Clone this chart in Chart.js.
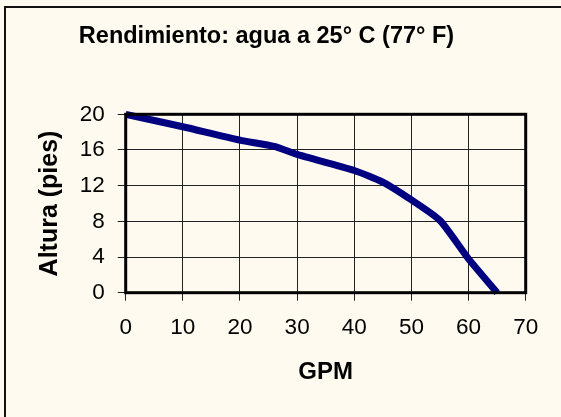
<!DOCTYPE html>
<html>
<head>
<meta charset="utf-8">
<script src="https://cdn.jsdelivr.net/npm/chart.js@4"></script>
<style>
html,body{margin:0;padding:0;background:#FFFAEF;}
#wrap{width:561px;height:417px;}
</style>
</head>
<body>
<div id="wrap"><canvas id="c" width="561" height="417"></canvas></div>
<script>
const chartTitle = "Rendimiento: agua a 25° C (77° F)";
const xTitle = "GPM";
const yTitle = "Altura (pies)";
const gpm = [0, 10, 20, 26, 30, 40, 45, 50, 55, 60, 65];
const altura = [20, 18.6, 17.1, 16.4, 15.5, 13.7, 12.4, 10.4, 8.1, 3.8, 0];
const xTicks = [0, 10, 20, 30, 40, 50, 60, 70];
const yTicks = [0, 4, 8, 12, 16, 20];

const points = gpm.map((x, i) => ({x: x, y: altura[i]}));
const FONT = "'Liberation Sans', Arial, sans-serif";

const frame = {
  id: 'frame',
  beforeDraw(chart) {
    const ctx = chart.ctx;
    ctx.save();
    ctx.fillStyle = '#FFFAEF';
    ctx.fillRect(0, 0, chart.width, chart.height);
    ctx.strokeStyle = '#111';
    ctx.lineWidth = 2;
    ctx.beginPath();
    ctx.moveTo(5, chart.height + 5);
    ctx.lineTo(5, 7);
    ctx.lineTo(chart.width + 5, 7);
    ctx.stroke();
    ctx.restore();
  },
  afterDatasetsDraw(chart) {
    const a = chart.chartArea;
    const ctx = chart.ctx;
    ctx.save();
    ctx.strokeStyle = '#000';
    ctx.lineWidth = 3;
    ctx.strokeRect(a.left, a.top, a.right - a.left, a.bottom - a.top);
    ctx.restore();
  }
};

new Chart(document.getElementById('c'), {
  type: 'scatter',
  data: {
    datasets: [{
      data: points,
      showLine: true,
      borderColor: '#000080',
      backgroundColor: '#000080',
      borderWidth: 7,
      pointRadius: 0,
      tension: 0.2,
      borderCapStyle: 'butt',
      clip: 8
    }]
  },
  options: {
    responsive: false,
    animation: false,
    devicePixelRatio: 1,
    layout: {padding: {left: 7.3, right: 35.3, top: 0, bottom: 0}},
    plugins: {
      legend: {display: false},
      tooltip: {enabled: false},
      title: {
        display: true,
        text: chartTitle,
        color: '#000',
        font: {family: FONT, size: 23.5, weight: 'bold', lineHeight: 1.2},
        padding: {top: 22, bottom: 64.1}
      }
    },
    scales: {
      x: {
        type: 'linear',
        min: 0, max: 70,
        afterBuildTicks(scale) { scale.ticks = xTicks.map(v => ({value: v})); },
        afterFit(scale) { scale.height = 417 - 292.7; },
        ticks: {color: '#000', padding: 14, font: {family: FONT, size: 22.5}},
        grid: {color: '#222', lineWidth: 1, tickLength: 8, drawTicks: true},
        border: {display: false},
        title: {display: true, text: xTitle, color: '#000',
          font: {family: FONT, size: 24, weight: 'bold', lineHeight: 1.2},
          padding: {top: 0, bottom: 30.6}}
      },
      y: {
        type: 'linear',
        min: 0, max: 20,
        afterBuildTicks(scale) { scale.ticks = yTicks.map(v => ({value: v})); },
        afterFit(scale) { scale.width = 118.4; },
        ticks: {color: '#000', padding: 13, font: {family: FONT, size: 22.5}},
        grid: {color: '#222', lineWidth: 1, tickLength: 8, drawTicks: true},
        border: {display: false},
        title: {display: true, text: yTitle, color: '#000',
          font: {family: FONT, size: 25, weight: 'bold', lineHeight: 1.2},
          padding: {top: 27.7, bottom: 0}}
      }
    }
  },
  plugins: [frame]
});
</script>
</body>
</html>
